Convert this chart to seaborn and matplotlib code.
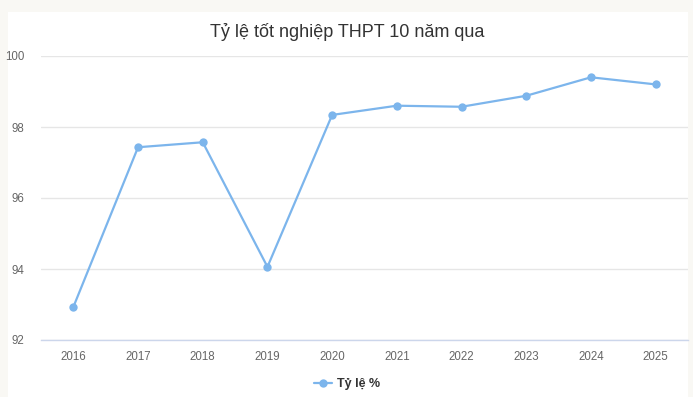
import matplotlib
matplotlib.use("Agg")
import matplotlib.pyplot as plt
import seaborn as sns
import pandas as pd
from matplotlib.patches import Rectangle
from matplotlib.lines import Line2D

years = ["2016", "2017", "2018", "2019", "2020", "2021", "2022", "2023", "2024", "2025"]
rates = [92.93, 97.43, 97.57, 94.06, 98.34, 98.6, 98.57, 98.88, 99.4, 99.2]
yticks = [92, 94, 96, 98, 100]
title = "Tỷ lệ tốt nghiệp THPT 10 năm qua"
series_name = "Tỷ lệ %"

df = pd.DataFrame({"year": years, "rate": rates})

sns.set_theme(style="white")
plt.rcParams["font.family"] = ["Liberation Sans", "DejaVu Sans"]

W, H = 693, 397
fig = plt.figure(figsize=(W / 100, H / 100), dpi=100)
fig.patch.set_facecolor("#f9f8f4")
fig.patches.append(Rectangle((8 / W, 0), (688 - 8) / W, (H - 12) / H,
                             transform=fig.transFigure, facecolor="white",
                             edgecolor="none", zorder=-10))

left, right, top, bottom = 41, 688, 56, 340
ax = fig.add_axes([left / W, 1 - bottom / H, (right - left) / W, (bottom - top) / H])
ax.set_facecolor("none")
ax.set_zorder(5)

color = "#7cb5ec"
x = list(range(len(years)))
sns.lineplot(x=x, y=df["rate"], ax=ax, color=color, linewidth=1.6,
             marker="o", markersize=6, markeredgewidth=0, legend=False, zorder=3,
             clip_on=False)

ax.set_xlim(-0.5, len(years) - 0.5)
ax.set_ylim(92, 100)
ax.set_yticks(yticks)
ax.set_yticklabels([str(v) for v in yticks])
ax.set_xticks(x)
ax.set_xticklabels(years)
ax.grid(axis="y", color="#e6e6e6", linewidth=1)
ax.grid(axis="x", visible=False)
ax.set_axisbelow(True)
for s in ["top", "right", "left"]:
    ax.spines[s].set_visible(False)
ax.spines["bottom"].set_color("#ccd6eb")
ax.spines["bottom"].set_linewidth(1)
ax.tick_params(axis="both", length=0, labelsize=8.3, colors="#666666")
ax.tick_params(axis="x", pad=8)
ax.tick_params(axis="y", pad=12)
ax.set_xlabel("")
ax.set_ylabel("")

fig.text(347.5 / W, 1 - 32 / H, title, ha="center", va="center",
         fontsize=13, color="#333333")

handle = Line2D([], [], color=color, linewidth=1.6, marker="o", markersize=6,
                markeredgewidth=0)
fig.legend([handle], [series_name], loc="center", bbox_to_anchor=(347 / W, 1 - 384 / H),
           frameon=False, handlelength=1.4, handletextpad=0.4,
           prop={"weight": "bold", "size": 9}, labelcolor="#333333")

fig.savefig("out.png", dpi=100, facecolor=fig.get_facecolor())
